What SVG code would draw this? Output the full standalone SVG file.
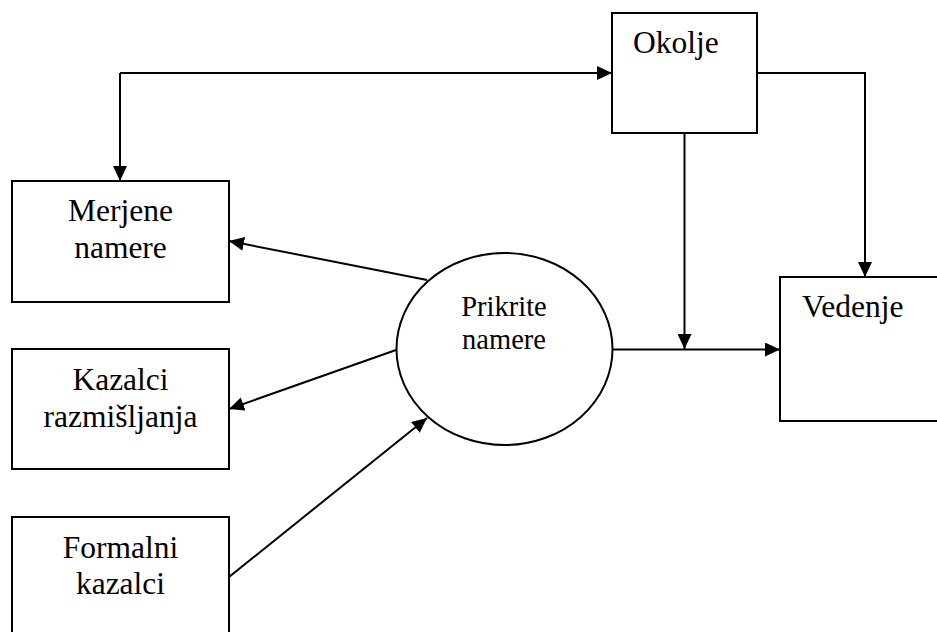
<svg xmlns="http://www.w3.org/2000/svg" width="937" height="632" viewBox="0 0 937 632">
<style>
.box{fill:#fff;stroke:#000;stroke-width:2}
.lbl{font-size:31.5px;fill:#000}
.sm{font-size:28.5px;fill:#000}
.c{fill:none;stroke:#000;stroke-width:2}
</style>
<defs>
<marker id="ah" markerUnits="userSpaceOnUse" markerWidth="16" markerHeight="14" refX="15" refY="7" orient="auto">
<path d="M0,0 L15,7 L0,14 Z" fill="#000"/>
</marker>
</defs>
<rect width="937" height="632" fill="#fff"/>
<g id="connectors">
<polyline class="c" points="120,73 120,181" marker-end="url(#ah)"/>
<line class="c" x1="120" y1="73" x2="612" y2="73" marker-end="url(#ah)"/>
<polyline class="c" points="757,73 865,73 865,277" marker-end="url(#ah)"/>
<line class="c" x1="684.5" y1="133" x2="684.5" y2="349" marker-end="url(#ah)"/>
<line class="c" x1="612.5" y1="349.5" x2="780" y2="349.5" marker-end="url(#ah)"/>
<line class="c" x1="427" y1="280" x2="229" y2="241" marker-end="url(#ah)"/>
<line class="c" x1="396" y1="350" x2="229" y2="409" marker-end="url(#ah)"/>
<line class="c" x1="229" y1="577" x2="427" y2="418" marker-end="url(#ah)"/>
</g>
<g font-family="'Liberation Serif', 'DejaVu Serif', serif">
<g id="merjene">
<rect class="box" x="12" y="181" width="217" height="121"/>
<text class="lbl" text-anchor="middle" x="120.5" y="220.5">Merjene</text>
<text class="lbl" text-anchor="middle" x="120.5" y="258">namere</text>
</g>
<g id="kazalci">
<rect class="box" x="12" y="349" width="217" height="120"/>
<text class="lbl" text-anchor="middle" x="120.5" y="390">Kazalci</text>
<text class="lbl" text-anchor="middle" x="120.5" y="426.5">razmišljanja</text>
</g>
<g id="formalni">
<rect class="box" x="12" y="517" width="217" height="130"/>
<text class="lbl" text-anchor="middle" x="120.5" y="557.5">Formalni</text>
<text class="lbl" text-anchor="middle" x="120.5" y="594">kazalci</text>
</g>
<g id="okolje">
<rect class="box" x="612" y="13" width="145" height="120"/>
<text class="lbl" x="633" y="53">Okolje</text>
</g>
<g id="vedenje">
<rect class="box" x="780" y="277" width="180" height="144"/>
<text class="lbl" x="802" y="316.5">Vedenje</text>
</g>
<g id="prikrite">
<ellipse class="box" cx="504.5" cy="349" rx="108" ry="96"/>
<text class="sm" text-anchor="middle" x="504" y="315.5">Prikrite</text>
<text class="sm" text-anchor="middle" x="504" y="349">namere</text>
</g>
</g>
</svg>
